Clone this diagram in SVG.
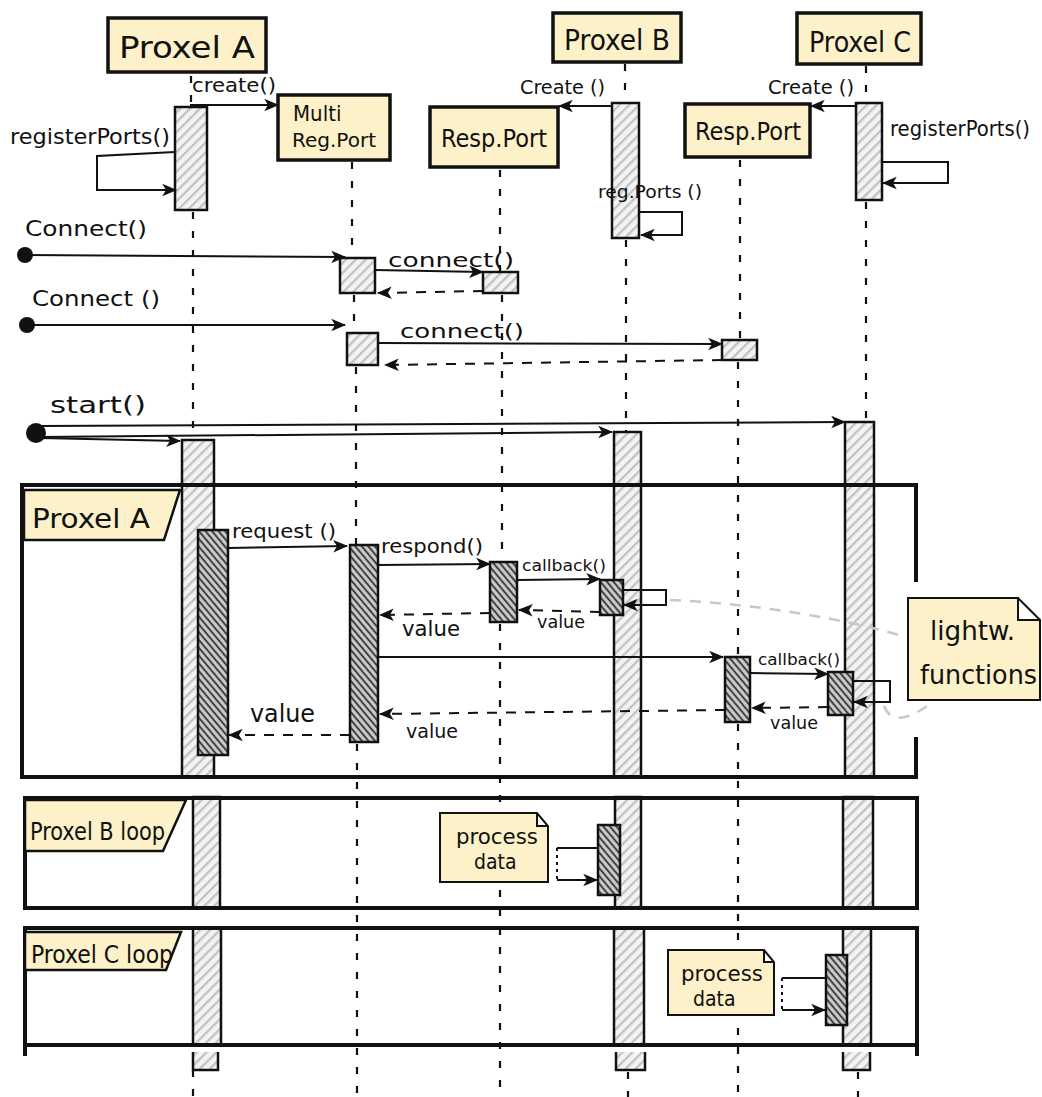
<svg xmlns="http://www.w3.org/2000/svg" width="1042" height="1097" viewBox="0 0 1042 1097">
<style>
.box{fill:#fcf1c8;stroke:#111;stroke-width:3.5}
.note{fill:#fcf1c8;stroke:#111;stroke-width:2}
.bar{fill:url(#hl);stroke:#111;stroke-width:2.5}
.act{fill:url(#hd);stroke:#111;stroke-width:2.5}
.life{stroke:#111;stroke-width:2.2;stroke-dasharray:7 12;fill:none}
.msg{stroke:#111;stroke-width:2;fill:none;marker-end:url(#ah)}
.ret{stroke:#111;stroke-width:2;fill:none;stroke-dasharray:10 9;marker-end:url(#ah)}
.plain{stroke:#111;stroke-width:2;fill:none}
.frame{fill:none;stroke:#111;stroke-width:4}
.tab{fill:#fcf1c8;stroke:#111;stroke-width:2.5}
.gray{stroke:#c8c8c8;stroke-width:2.5;fill:none;stroke-dasharray:11 9}
text{font-family:"DejaVu Sans Condensed","Liberation Sans",sans-serif;fill:#111}
</style>
<defs>
<pattern id="hl" width="7" height="7" patternUnits="userSpaceOnUse" patternTransform="rotate(45)"><rect width="7" height="7" fill="#f3f3f3"/><line x1="1" y1="0" x2="1" y2="7" stroke="#c2c2c2" stroke-width="2.6"/></pattern>
<pattern id="hd" width="5" height="5" patternUnits="userSpaceOnUse" patternTransform="rotate(-40)"><rect width="5" height="5" fill="#c9c9c9"/><line x1="1" y1="0" x2="1" y2="5" stroke="#222" stroke-width="1.6"/></pattern>
<marker id="ah" viewBox="0 0 12 10" refX="11" refY="5" markerWidth="15" markerHeight="13" markerUnits="userSpaceOnUse" orient="auto"><path d="M0,0 L12,5 L0,10 L3,5 Z" fill="#111"/></marker>
</defs>
<rect width="1042" height="1097" fill="#fff"/>

<!-- lifelines -->
<g id="lifelines">
<path class="life" d="M191,76 V106 M193,212 V440 M193,1070 V1097"/>
<path class="life" d="M352,162 V258 M354,295 V333 M356,367 V545 M357,744 V1097"/>
<path class="life" d="M500,170 V272 M502,295 V562 M500,624 V1097"/>
<path class="life" d="M625,64 V103 M626,240 V432 M628,1072 V1097"/>
<path class="life" d="M740,160 V340 M738,362 V657 M738,724 V1097"/>
<path class="life" d="M866,66 V103 M866,202 V422 M858,1072 V1097"/>
</g>

<!-- lifeline bars -->
<g id="bars">
<rect class="bar" x="175" y="107" width="32" height="103"/>
<rect class="bar" x="612" y="103" width="27" height="135"/>
<rect class="bar" x="856" y="103" width="26" height="97"/>
<rect class="bar" x="340" y="258" width="35" height="35"/>
<rect class="bar" x="483" y="272" width="35" height="21"/>
<rect class="bar" x="347" y="333" width="31" height="32"/>
<rect class="bar" x="722" y="340" width="35" height="20"/>
<path class="bar" d="M182,440 V777 H214 V440 Z"/>
<path class="bar" d="M614,432 V777 H641 V432 Z"/>
<path class="bar" d="M845,422 V777 H874 V422 Z"/>
<path class="bar" d="M193,797 V908 H220 V797 Z"/>
<path class="bar" d="M615,797 V908 H641 V797 Z"/>
<path class="bar" d="M843,797 V908 H873 V797 Z"/>
<path class="bar" d="M193,928 V1045 H221 V928 Z"/>
<path class="bar" d="M614,928 V1045 H644 V928 Z"/>
<path class="bar" d="M843,928 V1045 H871 V928 Z"/>
<path class="bar" d="M193,1052 V1070 H218 V1052"/>
<path class="bar" d="M616,1052 V1070 H645 V1052"/>
<path class="bar" d="M843,1052 V1070 H870 V1052"/>
</g>

<!-- frames -->
<g id="frame-a">
<path class="frame" d="M918,485 H22 V777 H918 M916,485 V582 M916,737 V777"/>
<path class="tab" d="M24,490 H180 L164,540 H24 Z"/>
<text x="32" y="528" font-size="26" textLength="118" lengthAdjust="spacingAndGlyphs">Proxel A</text>
</g>
<g id="frame-b">
<path class="frame" d="M25,798 H917 V908 H25 Z"/>
<path class="tab" d="M25,800 H186 L163,851 H25 Z"/>
<text x="30" y="840" font-size="24" textLength="135" lengthAdjust="spacingAndGlyphs">Proxel B loop</text>
</g>
<g id="frame-c">
<path class="frame" d="M25,928 H917 V1045 H25 Z M25,1045 V1056 M917,1045 V1056"/>
<path class="tab" d="M25,932 H181 L166,970 H25 Z"/>
<text x="31" y="963" font-size="24" textLength="142" lengthAdjust="spacingAndGlyphs">Proxel C loop</text>
</g>

<!-- inner activations -->
<g id="activations">
<rect class="act" x="198" y="530" width="30" height="225"/>
<rect class="act" x="350" y="545" width="28" height="197"/>
<rect class="act" x="490" y="562" width="27" height="60"/>
<rect class="act" x="600" y="580" width="23" height="35"/>
<rect class="act" x="725" y="657" width="25" height="65"/>
<rect class="act" x="828" y="672" width="25" height="43"/>
<rect class="act" x="598" y="825" width="22" height="70"/>
<rect class="act" x="826" y="955" width="21" height="70"/>
</g>

<!-- participants -->
<g id="proxel-a"><rect class="box" x="108" y="18" width="158" height="54"/><text x="187" y="58" font-size="30" text-anchor="middle" textLength="136" lengthAdjust="spacingAndGlyphs">Proxel A</text></g>
<g id="proxel-b"><rect class="box" x="553" y="13" width="128" height="49"/><text x="617" y="50" font-size="28" text-anchor="middle" textLength="106" lengthAdjust="spacingAndGlyphs">Proxel B</text></g>
<g id="proxel-c"><rect class="box" x="797" y="13" width="124" height="51"/><text x="860" y="52" font-size="28" text-anchor="middle" textLength="102" lengthAdjust="spacingAndGlyphs">Proxel  C</text></g>
<g id="multi-reg-port"><rect class="box" x="278" y="95" width="112" height="65"/><text x="293" y="121" font-size="22">Multi</text><text x="292" y="147" font-size="20" textLength="84" lengthAdjust="spacingAndGlyphs">Reg.Port</text></g>
<g id="resp-port-1"><rect class="box" x="430" y="107" width="128" height="60"/><text x="494" y="147" font-size="24" text-anchor="middle" textLength="106" lengthAdjust="spacingAndGlyphs">Resp.Port</text></g>
<g id="resp-port-2"><rect class="box" x="685" y="104" width="125" height="53"/><text x="748" y="140" font-size="24" text-anchor="middle" textLength="106" lengthAdjust="spacingAndGlyphs">Resp.Port</text></g>

<!-- notes -->
<g id="note-lightw">
<path class="note" d="M908,598 H1018 L1040,620 V700 H908 Z M1018,598 V620 H1040"/>
<text x="930" y="640" font-size="26" textLength="85" lengthAdjust="spacingAndGlyphs">lightw.</text>
<text x="920" y="684" font-size="26" textLength="117" lengthAdjust="spacingAndGlyphs">functions</text>
</g>
<g id="note-process-b">
<path class="note" d="M440,813 H537 L548,826 V882 H440 Z M537,813 V826 H548"/>
<text x="456" y="844" font-size="21" textLength="82" lengthAdjust="spacingAndGlyphs">process</text>
<text x="474" y="869" font-size="21">data</text>
</g>
<g id="note-process-c">
<path class="note" d="M668,950 H764 L774,962 V1015 H668 Z M764,950 V962 H774"/>
<text x="681" y="981" font-size="21" textLength="82" lengthAdjust="spacingAndGlyphs">process</text>
<text x="693" y="1006" font-size="21">data</text>
</g>

<!-- connectors -->
<g id="connectors">
<path class="msg" d="M190,105 H278"/>
<text x="192" y="92" font-size="19" textLength="84" lengthAdjust="spacingAndGlyphs">create()</text>
<path class="msg" d="M613,106 H559"/>
<text x="520" y="94" font-size="19" textLength="85" lengthAdjust="spacingAndGlyphs">Create ()</text>
<path class="msg" d="M856,106 H811"/>
<text x="768" y="94" font-size="19" textLength="86" lengthAdjust="spacingAndGlyphs">Create ()</text>
<path class="msg" d="M175,152 L97,156 V190 H176"/>
<text x="10" y="144" font-size="21" textLength="160" lengthAdjust="spacingAndGlyphs">registerPorts()</text>
<path class="msg" d="M640,212 H682 V235 H641"/>
<text x="598" y="198" font-size="17" textLength="104" lengthAdjust="spacingAndGlyphs">reg.Ports ()</text>
<path class="msg" d="M882,162 H948 V183 H883"/>
<text x="890" y="136" font-size="21" textLength="140" lengthAdjust="spacingAndGlyphs">registerPorts()</text>

<circle cx="25" cy="255" r="8" fill="#111"/>
<path class="msg" d="M25,255 L345,257"/>
<text x="25" y="236" font-size="22" textLength="122" lengthAdjust="spacingAndGlyphs">Connect()</text>
<path class="msg" d="M375,270 L483,272"/>
<text x="388" y="267" font-size="20" textLength="126" lengthAdjust="spacingAndGlyphs">connect()</text>
<path class="ret" d="M483,291 L378,293"/>
<circle cx="27" cy="325" r="8" fill="#111"/>
<path class="msg" d="M27,325 L345,325"/>
<text x="32" y="306" font-size="22" textLength="128" lengthAdjust="spacingAndGlyphs">Connect ()</text>
<path class="msg" d="M378,343 L722,344"/>
<text x="400" y="338" font-size="20" textLength="124" lengthAdjust="spacingAndGlyphs">connect()</text>
<path class="ret" d="M722,360 L385,365"/>

<circle cx="36" cy="433" r="10" fill="#111"/>
<path class="msg" d="M40,426 L845,422"/>
<path class="msg" d="M40,437 L612,432"/>
<path class="msg" d="M40,438 L180,441"/>
<text x="50" y="413" font-size="23" textLength="96" lengthAdjust="spacingAndGlyphs">start()</text>

<path class="msg" d="M228,548 L347,546"/>
<text x="232" y="538" font-size="19" textLength="104" lengthAdjust="spacingAndGlyphs">request ()</text>
<path class="msg" d="M378,565 L490,564"/>
<text x="381" y="553" font-size="19" textLength="102" lengthAdjust="spacingAndGlyphs">respond()</text>
<path class="msg" d="M517,580 L600,579"/>
<text x="522" y="571" font-size="16" textLength="84" lengthAdjust="spacingAndGlyphs">callback()</text>
<path class="msg" d="M623,590 H666 V605 H624"/>
<path class="ret" d="M600,612 L519,610"/>
<text x="537" y="628" font-size="18" textLength="48" lengthAdjust="spacingAndGlyphs">value</text>
<path class="ret" d="M490,613 L380,615"/>
<text x="402" y="636" font-size="21" textLength="58" lengthAdjust="spacingAndGlyphs">value</text>
<path class="msg" d="M378,657 L723,657"/>
<path class="msg" d="M750,673 L828,674"/>
<text x="758" y="665" font-size="16" textLength="82" lengthAdjust="spacingAndGlyphs">callback()</text>
<path class="msg" d="M853,681 H890 V702 H854"/>
<path class="ret" d="M828,707 L752,708"/>
<text x="770" y="729" font-size="18" textLength="48" lengthAdjust="spacingAndGlyphs">value</text>
<path class="ret" d="M725,710 L380,714"/>
<text x="406" y="738" font-size="20" textLength="52" lengthAdjust="spacingAndGlyphs">value</text>
<path class="ret" d="M350,735 L229,735"/>
<text x="250" y="722" font-size="24" textLength="65" lengthAdjust="spacingAndGlyphs">value</text>

<path class="gray" d="M670,600 C760,604 850,620 906,637"/>
<path class="gray" d="M884,706 C890,722 905,722 930,704"/>

<path class="plain" d="M597,848 H557"/>
<path class="plain" d="M557,848 V880" stroke-dasharray="3 4"/>
<path class="msg" d="M557,880 H597"/>
<path class="plain" d="M826,978 H782"/>
<path class="plain" d="M782,978 V1010" stroke-dasharray="3 4"/>
<path class="msg" d="M782,1010 H825"/>
</g>
</svg>
